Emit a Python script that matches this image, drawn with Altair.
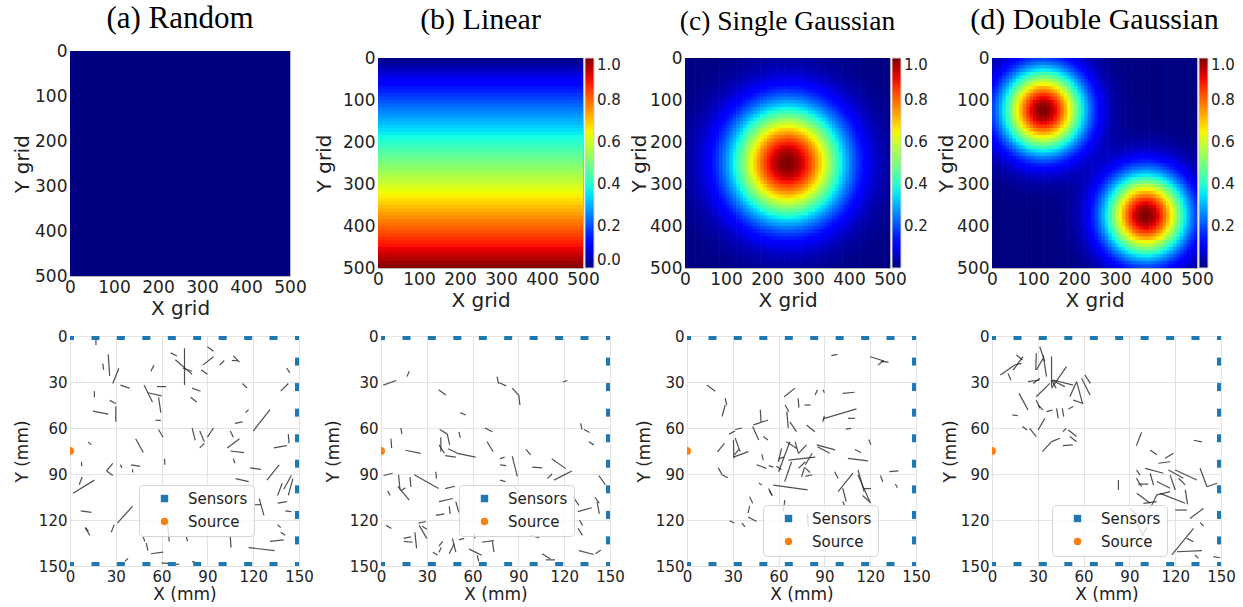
import altair as alt
import numpy as np
import pandas as pd

# ---------------- data ----------------
TITLES = ["(a) Random", "(b) Linear", "(c) Single Gaussian", "(d) Double Gaussian"]
GRID_TICKS = [0, 100, 200, 300, 400, 500]
MM_TICKS = [0, 30, 60, 90, 120, 150]
N_CELLS = 60
RANDOM_LEVEL = [0.0]
LINEAR_RANGE = [0.0, 1.0]            # top -> bottom
SINGLE_CENTERS = [(250, 250)]
SINGLE_SIGMA = 92
DOUBLE_CENTERS = [(125, 125), (375, 375)]
DOUBLE_SIGMA = 67
CBAR_VALUES_LIN = [0.0, 0.2, 0.4, 0.6, 0.8, 1.0]
CBAR_VALUES_GAUSS = [0.2, 0.4, 0.6, 0.8, 1.0]

JET_STOPS = [0, 0.11, 0.125, 0.34, 0.35, 0.375, 0.64, 0.65, 0.66, 0.89, 0.91, 1.0]
JET_COLORS = ["#000080", "#0000ff", "#0000ff", "#00dbff", "#00e5f7", "#14ffe2",
              "#eeff08", "#f7f500", "#ffec00", "#ff1300", "#e80000", "#800000"]

SENSOR_X = [0, 16.7, 33.3, 50, 66.7, 83.3, 100, 116.7, 133.3, 150]
SENSOR_RIGHT_Y = [16.7, 33.3, 50, 66.7, 83.3, 100, 116.7, 133.3]
SOURCE = [(0, 75)]

FIBERS_A = [(17,2,17,6),(25,12,26,26),(21.5,18,22,22),(32,21,28,31),(33,32,39,34),(16,36,16,40),
    (15,49,25,51),(26,42,30,44),(30,46,30,56),(48.5,32,54,43),(51,37,60,39),(55,19,53,23),(58,40,59.5,50),
    (57,33,63,33),(56,55,59.5,55),(58,61,61,66),(66,11,70,13),(75,8,75,32),(69,15.5,80,25),(74,21,80,23),
    (90,7,94,10),(87,19,94,13.5),(86,22,90,25),(80,34,85.5,36),(79,40,83,43),(98,19,101,16),(107,13,111,17),
    (106,16,110,16),(113,31,116,34),(142,21,144,24),(138,36,143,31),(120,62,131,48),(115,50,117,48),
    (108,57,113,56),(80,60,82,68),(85,62,88,69),(85,73,88,70),(90,66,94,60),(105,62,107,66),(103,73,111,67),
    (105,75,114,76),(107,80,108,83),(118,86,125,87),(133.5,73,142,71.5),(143,64,143.5,70),(129,94,137,84),
    (108.5,93,117,95),(136,104,139,96),(140,100,145,91),(143,104,146,93),(124,106,127,117),(120,110,125,110),
    (136,109,142,108),(141,114,145,114.5),(136,123,138,125),(131,134,140,133),(138,128,141,130),
    (117,138,134,140),(105,131,105.5,138),(76,130,77,134),(53,142,61,141),(64,123,65,134),(60,148,71.5,149),
    (48,131,49,134),(50,135,51,140),(31,122,41,111),(27,128,29,123),(10,125,12,127),(10,125,13,130),
    (7,114,14,115),(2,102.5,16,94),(6,97,8,92),(7.5,82,7.7,85),(12,69,14,71),(28,83,24,88),(24,88,28,91),
    (33,84,34,86),(40,84,46,85),(43,67,48,76),(41,87,41,89),(62,80,62,84),(36,147,38,145),(80,147,83,148)]

FIBERS_B = [(1.5,32,10,29),(17,26.5,18.5,23),(37.7,35,42.5,38.5),(52,50,55.5,51.5),(51,62.5,52,66.5),
    (76,26.5,77,31),(77.5,30.5,82,32.5),(86,34,90.5,39),(90.3,39,91,45),(119,30,122,29),(68,60,73,62.5),
    (130.7,57,131.7,61),(133,61,136.6,63),(136,69,139.5,71),(6.5,67,7,73),(13,60,13.7,64),(16,74.5,26,76.5),
    (38.5,61,43.5,64),(43.4,64,45,71),(39.2,66,39.2,75.5),(38,71,41.5,76.5),(42,78,49,79),(44,73.5,50,76.5),
    (50,76.5,62,79),(69.5,69,73.5,75.5),(78,80,81,79),(78,84,82,84.5),(86,78.5,89.3,91.5),(95,74,98,77.5),
    (99,85.5,105.6,86),(111.8,80,121,86.5),(113.3,94,125,88),(109,93,112,90),(78,94,81.5,95),(87,97.5,90.5,102),
    (142.7,91,147,97),(140,105,143,109),(141.5,108,143,116),(129,114.5,138,112),(126,105,129.6,110.5),
    (129,125.5,132,130),(130,120,132,123.5),(98,130,103.5,131.5),(105.5,142,111,145.5),(108,146,114,146),
    (129.6,140,139.4,142.5),(140.5,142,144,139.5),(1.7,91,7.6,89.5),(11.5,90.5,12.4,100),(11,98,18.5,107),
    (13,101,16,99),(19,92,19.6,98.5),(21.8,90.5,37.7,99.5),(35.9,88.5,36.3,93),(4.4,101,6,104),(42,99.5,48.5,98),
    (38,108,47,106),(44.7,111,45.3,116),(36,117,41.5,116),(49,108,51,115),(3.3,123.5,6.8,125.5),
    (14.8,132,19.6,131),(15,134,20.7,134.5),(22.2,128,23.3,138.5),(24.6,122,29.4,121),(25,123.5,30,132),
    (27,124,30,126),(37.9,137,40.5,134),(38,141,39.5,138),(46.8,132,49,141),(44.7,142,48,135.5),
    (51,133,54.5,132),(57.7,139,66,143),(66,134.5,74,133.5),(73,134,74,141),(61,129,61.5,132),(63,143,64,147),
    (34,141,37,143)]

FIBERS_C = [(13,32,18.5,36),(25,40.5,26,45),(25,45,23,52.5),(20,75.5,24.5,70),(20.5,86,23,90.5),
    (23,90.5,26.7,92.5),(27.5,64,31.5,62),(30.4,67.8,30.7,79.8),(31.5,66.5,34.8,75.4),(30.4,79,40.2,75.4),
    (34,74,31,77.5),(31.5,61,36,60),(43.5,58,53,54.8),(43,59,47,67.8),(48,48,48.5,56),(45.6,84,52,86.3),
    (49,77,50,81),(47,96,49,97),(41,104.8,43,109),(40,118,45.6,121),(36,122,38,124.5),(28,120.5,31,122),
    (41,111,40,115.5),(54,101,56,104),(56.5,97.3,79,100.4),(58.5,85,61.8,87),(59.8,82,62,73.3),
    (60,88.5,67.4,69),(64,95,68.5,82),(65,69,72,73.3),(66.5,81,84,79),(70.8,69,73,76.6),(73,76.6,78.3,71),
    (73,86.3,77.5,82),(77.5,91.5,82,90.5),(75,92,77,85.5),(77.5,84,82,76.5),(85,71,97,74.3),
    (85.5,72.2,93.5,76.5),(64.3,45,66.7,49.3),(63.7,39.6,70.7,34),(65.4,49.3,66.3,60),(67.4,56,71.7,62.4),
    (72.8,40.6,73.3,46.7),(77,45,81,45),(84,38.5,85.4,35),(89,35,90,37),(89,54,111,47.5),(89,56,90,52),
    (78.3,58,83.7,62.4),(105.4,53.7,110,53.7),(104,60.7,107.6,60.2),(102,37.4,109.8,36.7),(94.6,12.8,98.5,12),
    (120,13.5,129,16.3),(125,19,129,16),(127,16.5,132,17),(110,74,114,76),(105.4,79.8,118.5,81.5),
    (119,67.5,120.5,71),(96.7,88.5,99,93),(99,101.5,108.7,89.5),(102,99.3,104.3,108),(112,87.4,116,101.5),
    (112,90.7,120.2,109),(116,99.5,120.5,99.5),(115,104,119.5,108),(126.7,91,128.3,95),(132.6,88.5,138.5,88),
    (136.5,96.5,137.8,99),(102,108,103.5,111),(64.1,107,63,114.5),(78.8,115.7,79.5,124.3),(88,140,91,140),
    (53.5,84.5,56.5,85.5),(53.5,99.5,55.5,104),(60,80,63.5,79),(77.5,86,80.5,89),(50,65.5,53,67.8)]

FIBERS_D = [(5.5,25.4,14.9,18.9),(10.5,24.4,12.5,28.7),(13.8,22.2,20.3,13.5),(14.9,18.9,19.3,17.8),
    (16,12.4,20,15.6),(29,11.3,28.7,22.2),(29,22.2,33.5,14.6),(31.3,7,34.6,16.7),(33.5,12.4,35.7,26.5),
    (39,13.3,39,33),(23.6,29.8,31.3,28.7),(27,31,31.3,27.6),(29,39.6,37.9,30.9),(39,28.7,47.7,33),
    (39,34,48.8,20),(39.9,28.7,53.2,32),(42,34,39,28.7),(58.7,27.6,64.2,38.5),(60.8,25.4,64.5,30.9),
    (51,39.6,55.4,29.8),(55.4,29.8,59.3,44),(53.2,41.8,59.8,44),(17.7,37.4,23.6,48.3),(29,41.8,31.3,47.2),
    (30.2,45,33.5,48.3),(35.7,49.3,39.6,48.3),(42.3,47.2,43.4,53.7),(46,47.2,47,52.6),(50,47.6,53.2,46),
    (13.3,51.5,17,52),(19.9,59,23,61.3),(24.7,60.2,29,65.6),(30.2,61.3,34.6,53.7),(33,75.4,39,68.9),
    (39,68.9,44.5,66.7),(46.4,62.4,48.6,60.2),(50,61.3,55.4,65.6),(51,65.6,55.4,68.9),(46.4,71.5,53,71),
    (98,62.8,94.6,71.5),(82.8,94,82.8,100.4),(94.6,87.4,97,90.7),(103.6,74.3,108,77.5),(113.4,79.8,118.9,76.5),
    (100.3,86.3,112.3,89.5),(103.6,89.5,105.8,97.3),(109,83,116.7,82),(95.8,96.6,102.4,96.6),
    (94.6,92.8,97.9,98.2),(108,94.9,116.7,99.3),(115.6,87.4,125.4,92.8),(120,87.4,134.2,93.9),
    (116.7,90.7,120,100.4),(108,103.6,116.7,101.5),(110,102.6,126.6,109.1),(126.6,100.4,128.1,109.8),
    (122.2,92.8,126.6,97.1),(136.3,86.3,140.8,98.3),(140.8,98.3,147.4,96),(132,68,137.5,69),
    (94.8,102.6,103.6,109.1),(99.2,109.1,107.9,108),(103.6,112.4,108,103.6),(120,113.5,127.6,113.5),
    (129.7,119,138.6,112.4),(136.3,121.7,138.6,123.9),(121.1,140.7,137.5,140),(117.8,142.8,132,125.4),
    (127.6,132,132,134.2),(133,142.8,135.2,145),(145,143.9,149.4,144.6),(90.4,112.4,94.8,116.7),
    (94.8,121.7,99.2,130.4),(98.1,130.4,101.4,125)]

LEGEND_POS = [(69, 149), (78, 149), (76, 169), (60, 169)]

# per-panel layout/text settings
TITLE_SIZES = [31, 30, 27.5, 30]
TITLE_GAP = [0, 7, 7, 7]
TOP_YPAD = [2, 8, 0, 0]
BOT_YPAD = [7, 7, 2, 1]

# ---------------- tables ----------------
edges = np.linspace(0, 500, N_CELLS + 1)
mids = (edges[:-1] + edges[1:]) / 2
OVL = 1.5


def field_table(values2d):
    rows = []
    for i in range(N_CELLS):
        for j in range(N_CELLS):
            rows.append((edges[j], edges[j + 1] + OVL, edges[i], edges[i + 1] + OVL, float(values2d[i, j])))
    return pd.DataFrame(rows, columns=["x", "x2", "y", "y2", "v"])


def gauss_field(centers, sigma):
    X, Y = np.meshgrid(mids, mids)
    v = np.zeros_like(X)
    for cx, cy in centers:
        v += np.exp(-((X - cx) ** 2 + (Y - cy) ** 2) / (2 * sigma ** 2))
    return v / v.max()


df_random = pd.DataFrame({"x": [0], "x2": [500], "y": [0], "y2": [500], "v": RANDOM_LEVEL})
df_linear = pd.DataFrame({
    "x": 0, "x2": 500, "y": edges[:-1], "y2": edges[1:] + OVL,
    "v": LINEAR_RANGE[0] + (LINEAR_RANGE[1] - LINEAR_RANGE[0]) * mids / 500})
df_single = field_table(gauss_field(SINGLE_CENTERS, SINGLE_SIGMA))
df_double = field_table(gauss_field(DOUBLE_CENTERS, DOUBLE_SIGMA))

pts_rows = ([(x, 0, "Sensors") for x in SENSOR_X] + [(x, 150, "Sensors") for x in SENSOR_X]
            + [(150, y, "Sensors") for y in SENSOR_RIGHT_Y] + [(x, y, "Source") for x, y in SOURCE])
df_pts = pd.DataFrame(pts_rows, columns=["x", "y", "kind"])

# ---------------- charts ----------------
TXT = "#222222"


def title_holder(k, w):
    # invisible strip that carries the panel title above the heat map
    return alt.Chart(pd.DataFrame({"t": [TITLES[k]]})).mark_point(opacity=0).encode(
        x=alt.value(0), y=alt.value(0)
    ).properties(width=w, height=1, view=alt.ViewBackground(stroke="transparent", strokeWidth=0),
                 title=alt.TitleParams(TITLES[k], font="Liberation Serif", fontSize=TITLE_SIZES[k],
                                       fontWeight="normal", color="black", anchor="middle",
                                       frame="group", offset=0))


def heat_panel(df, k, w, h, cbar_values):
    leg = None
    if cbar_values is not None:
        leg = alt.Legend(title=None, orient="none", legendX=w + 2, legendY=0, direction="vertical",
                         gradientLength=h, gradientThickness=9, values=cbar_values, format=".1f",
                         labelFontSize=15, labelOffset=3, labelOverlap=False, labelBaseline="middle",
                         gradientStrokeColor="#d0d0d0", gradientStrokeWidth=1, padding=0)
    heat = alt.Chart(df).mark_rect(clip=True).encode(
        x=alt.X("x:Q", scale=alt.Scale(domain=[0, 500], nice=False),
                axis=alt.Axis(values=GRID_TICKS, title="X grid", labelFontSize=17, titleFontSize=20,
                              grid=False, titlePadding=3)),
        x2="x2:Q",
        y=alt.Y("y:Q", scale=alt.Scale(domain=[0, 500], nice=False, reverse=True),
                axis=alt.Axis(values=GRID_TICKS, title="Y grid", labelFontSize=17, titleFontSize=20,
                              grid=False, titlePadding=TOP_YPAD[k])),
        y2="y2:Q",
        color=alt.Color("v:Q", scale=alt.Scale(domain=JET_STOPS, range=JET_COLORS, interpolate="rgb"),
                        legend=leg),
    ).properties(width=w, height=h)
    return alt.vconcat(title_holder(k, w), heat, spacing=TITLE_GAP[k]).resolve_scale(color="independent")


def fiber_panel(fibers, k):
    legpos = LEGEND_POS[k]
    seg = pd.DataFrame(fibers, columns=["x1", "y1", "x2", "y2"])
    xs = alt.Scale(domain=[0, 150], nice=False)
    ys = alt.Scale(domain=[0, 150], nice=False, reverse=True)
    xax = alt.Axis(values=MM_TICKS, title="X (mm)", labelFontSize=15, titleFontSize=17, grid=True,
                   gridColor="#e3e3e3", titlePadding=2)
    yax = alt.Axis(values=MM_TICKS, title="Y (mm)", labelFontSize=15, titleFontSize=17, grid=True,
                   gridColor="#e3e3e3", titlePadding=BOT_YPAD[k])
    lines = alt.Chart(seg).mark_rule(color="#303030", strokeWidth=1.2, opacity=0.85).encode(
        x=alt.X("x1:Q", scale=xs, axis=xax), y=alt.Y("y1:Q", scale=ys, axis=yax),
        x2="x2:Q", y2="y2:Q")
    leg = alt.Legend(title=None, orient="none", legendX=legpos[0], legendY=legpos[1],
                     fillColor="rgba(255,255,255,0.8)", strokeColor="#d4d4d4", cornerRadius=4,
                     padding=6, labelFontSize=15, symbolSize=55, labelOffset=16, symbolOffset=12,
                     rowPadding=7, symbolStrokeWidth=0)
    pts = alt.Chart(df_pts).mark_point(filled=True, clip=True, opacity=1, size=64).encode(
        x=alt.X("x:Q", scale=xs), y=alt.Y("y:Q", scale=ys),
        color=alt.Color("kind:N", scale=alt.Scale(domain=["Sensors", "Source"], range=["#1f77b4", "#ff7f0e"]),
                        legend=leg),
        shape=alt.Shape("kind:N", scale=alt.Scale(domain=["Sensors", "Source"], range=["square", "circle"]),
                        legend=leg),
    )
    return alt.layer(lines, pts).properties(width=229, height=230)


pa = heat_panel(df_random, 0, 220, 225, None)
pb = heat_panel(df_linear, 1, 205, 210, CBAR_VALUES_LIN)
pc = heat_panel(df_single, 2, 205, 210, CBAR_VALUES_GAUSS)
pd_ = heat_panel(df_double, 3, 205, 210, CBAR_VALUES_GAUSS)

qa = fiber_panel(FIBERS_A, 0)
qb = fiber_panel(FIBERS_B, 1)
qc = fiber_panel(FIBERS_C, 2)
qd = fiber_panel(FIBERS_D, 3)

top = alt.hconcat(pa, pb, pc, pd_, spacing=7).resolve_scale(
    color="independent").resolve_legend(color="independent")
bottom = alt.hconcat(qa, qb, qc, qd, spacing=9).resolve_scale(
    color="independent", shape="independent").resolve_legend(color="independent", shape="independent")

chart = alt.vconcat(top, bottom, spacing=9).resolve_scale(
    color="independent", shape="independent").properties(
    padding={"left": 12, "top": 3, "right": 5, "bottom": 5}
).configure_axis(
    labelFont="DejaVu Sans", titleFont="DejaVu Sans", labelColor=TXT, titleColor=TXT,
    titleFontWeight="normal", ticks=False, domain=False, labelFlush=False, labelOverlap=False,
    labelPadding=3
).configure_legend(labelFont="DejaVu Sans", labelColor=TXT).configure_view(
    stroke="#b4b4b4", strokeWidth=1
)

chart.save("out.html", embed_options={"renderer": "svg", "actions": False})
